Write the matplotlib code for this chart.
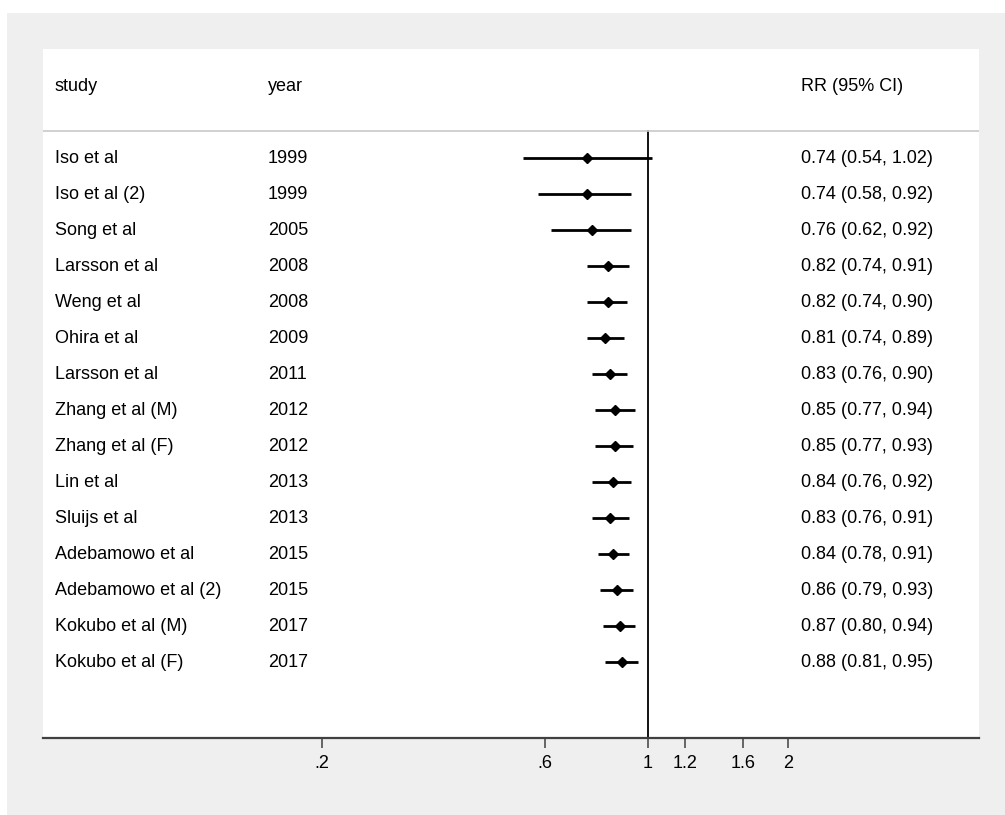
import numpy as np
import matplotlib
matplotlib.use("Agg")
import matplotlib.pyplot as plt
from matplotlib.patches import Rectangle
import matplotlib.transforms as mtransforms

plt.rcParams['font.family'] = ['Liberation Sans', 'DejaVu Sans']
plt.rcParams['font.size'] = 13

studies = ["Iso et al", "Iso et al (2)", "Song et al", "Larsson et al", "Weng et al",
           "Ohira et al", "Larsson et al", "Zhang et al (M)", "Zhang et al (F)", "Lin et al",
           "Sluijs et al", "Adebamowo et al", "Adebamowo et al (2)", "Kokubo et al (M)",
           "Kokubo et al (F)"]
years = [1999, 1999, 2005, 2008, 2008, 2009, 2011, 2012, 2012, 2013, 2013, 2015, 2015, 2017, 2017]
rr = [0.74, 0.74, 0.76, 0.82, 0.82, 0.81, 0.83, 0.85, 0.85, 0.84, 0.83, 0.84, 0.86, 0.87, 0.88]
lo = [0.54, 0.58, 0.62, 0.74, 0.74, 0.74, 0.76, 0.77, 0.77, 0.76, 0.76, 0.78, 0.79, 0.80, 0.81]
hi = [1.02, 0.92, 0.92, 0.91, 0.90, 0.89, 0.90, 0.94, 0.93, 0.92, 0.91, 0.91, 0.93, 0.94, 0.95]
xticks = [0.2, 0.6, 1, 1.2, 1.6, 2]
xticklabels = [".2", ".6", "1", "1.2", "1.6", "2"]

W, H = 1005, 815
fig = plt.figure(figsize=(W / 100, H / 100), dpi=100, facecolor="white")
# grey graph region behind the plot area
fig.patches.append(Rectangle((7 / W, 0), 1 - 7 / W, 1 - 13 / H, transform=fig.transFigure,
                             facecolor="#efefef", edgecolor="none", zorder=-10))

ax = fig.add_axes([43 / W, 77 / H, 936 / W, 689 / H])
ax.set_facecolor("white")
ax.set_xscale("log")
ax.set_xlim(0.0504, 5.13)
ax.set_ylim(16.11, -3.03)

y = np.arange(len(studies))
ax.hlines(y, lo, hi, color="black", lw=2.0, zorder=3)
ax.plot(rr, y, "D", color="black", ms=5, zorder=4)
ax.plot([1, 1], [-0.75, 16.11], color="black", lw=1.3, zorder=2)

# table columns
tr = mtransforms.blended_transform_factory(ax.transAxes, ax.transData)
ax.text(0.0128, -2, "study", transform=tr, va="center", ha="left")
ax.text(0.2404, -2, "year", transform=tr, va="center", ha="left")
ax.text(0.8095, -2, "RR (95% CI)", transform=tr, va="center", ha="left")
ax.plot([0, 1], [-0.75, -0.75], transform=tr, color="#c8c8c8", lw=1.2)
for i in range(len(studies)):
    ax.text(0.0128, i, studies[i], transform=tr, va="center", ha="left")
    ax.text(0.2404, i, str(years[i]), transform=tr, va="center", ha="left")
    ax.text(0.8095, i, f"{rr[i]:.2f} ({lo[i]:.2f}, {hi[i]:.2f})", transform=tr,
            va="center", ha="left")

for s in ["top", "left", "right"]:
    ax.spines[s].set_visible(False)
ax.spines["bottom"].set_color("#404040")
ax.spines["bottom"].set_linewidth(1.6)
ax.set_yticks([])
ax.set_xticks(xticks)
ax.set_xticklabels(xticklabels)
ax.xaxis.set_minor_locator(plt.NullLocator())
ax.tick_params(axis="x", length=7.5, width=1.1, color="#404040", pad=5, labelsize=13)

fig.savefig("out.png", dpi=100, facecolor=fig.get_facecolor())
